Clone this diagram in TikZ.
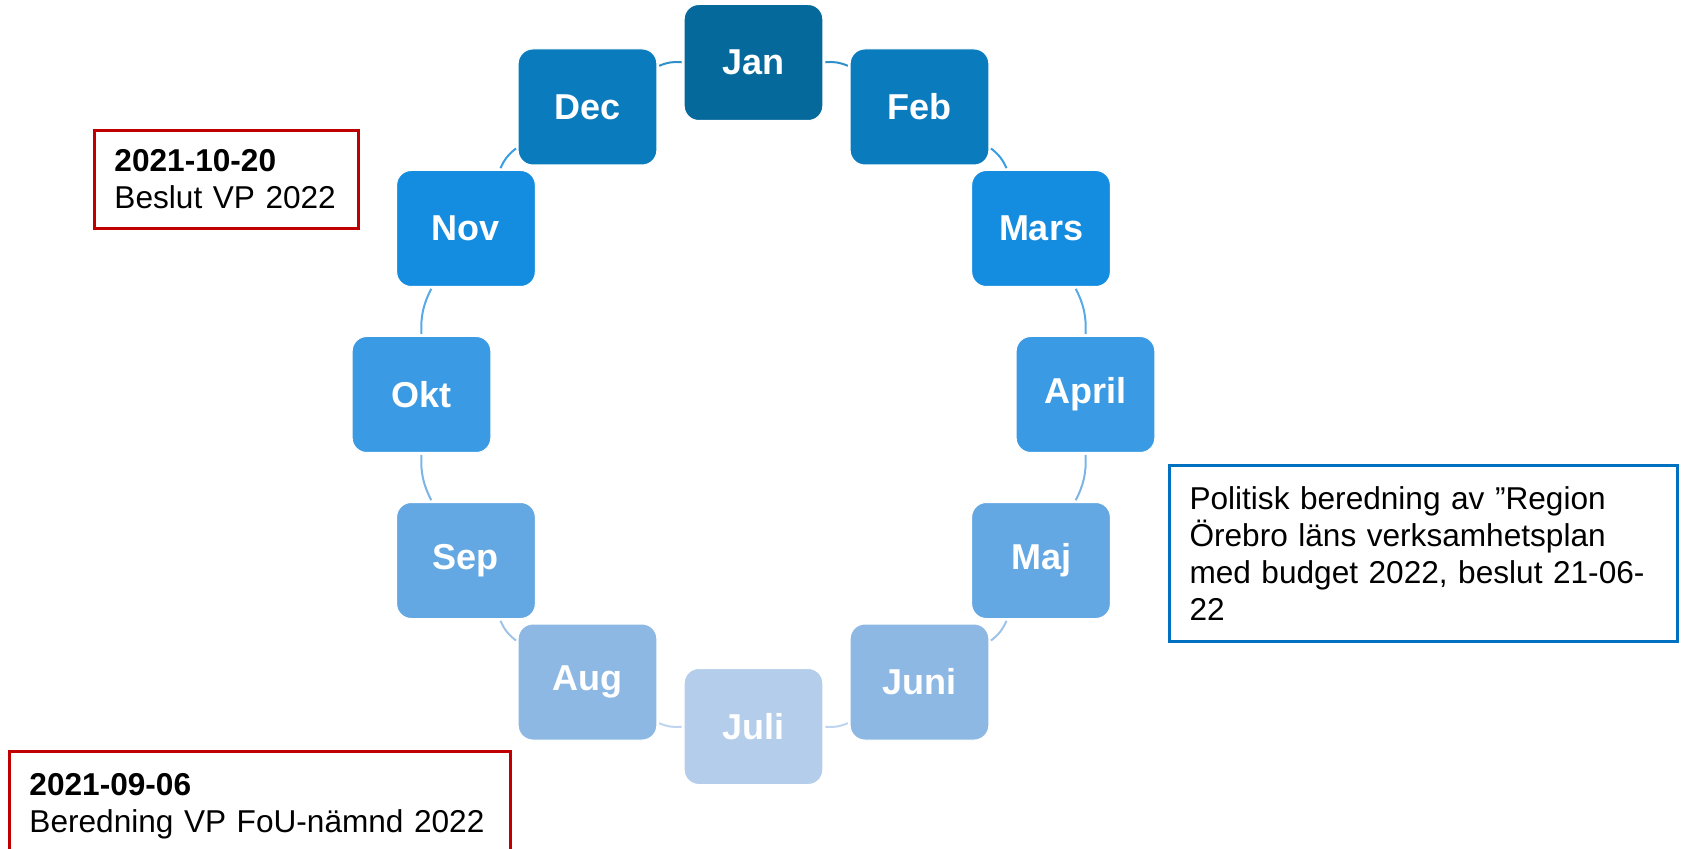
\documentclass[tikz,border=0pt]{standalone}
\usepackage{fontspec}
\setmainfont{Liberation Sans}

\definecolor{tone1}{HTML}{05699C}
\definecolor{tone2}{HTML}{0A7CBE}
\definecolor{tone3}{HTML}{148DE0}
\definecolor{tone4}{HTML}{3A9BE4}
\definecolor{tone5}{HTML}{63A8E2}
\definecolor{tone6}{HTML}{8EB8E4}
\definecolor{tone7}{HTML}{B4CDEB}
\definecolor{notered}{HTML}{C00000}
\definecolor{noteblue}{HTML}{0070C0}

\begin{document}
\begin{tikzpicture}[x=0.75pt, y=0.75pt,
    monthbox/.style={rectangle, rounded corners=11pt, draw=white, line width=0.75pt,
        minimum width=104pt, minimum height=87pt, text=white,
        font=\bfseries\fontsize{27}{32}\selectfont},
    arcline/.style={line width=1.5pt, shorten <=1.5pt, shorten >=1.5pt},
    notebox/.style={rectangle, draw, line width=2.25pt, fill=white, anchor=north west,
        align=left, inner xsep=15pt, font=\fontsize{23.7}{27.75}\selectfont}]
    \useasboundingbox (-753.5,-454.5) rectangle (931.5,394.5);

    % Months round the circle
    \node[monthbox, fill=tone1] (jan) at (90:332) {Jan};
    \node[monthbox, fill=tone2] (feb) at (60:332) {Feb};
    \node[monthbox, fill=tone3] (mar) at (30:332) {Mars};
    \node[monthbox, fill=tone4] (apr) at (0:332) {April};
    \node[monthbox, fill=tone5] (maj) at (-30:332) {Maj};
    \node[monthbox, fill=tone6] (jun) at (-60:332) {Juni};
    \node[monthbox, fill=tone7] (jul) at (-90:332) {Juli};
    \node[monthbox, fill=tone6] (aug) at (-120:332) {Aug};
    \node[monthbox, fill=tone5] (sep) at (-150:332) {Sep};
    \node[monthbox, fill=tone4] (okt) at (180:332) {Okt};
    \node[monthbox, fill=tone3] (nov) at (150:332) {Nov};
    \node[monthbox, fill=tone2] (dec) at (120:332) {Dec};

    % Arcs between the months
    \draw[arcline, tone2!85!white] (jan) to[bend left=15] (feb);
    \draw[arcline, tone3!85!white] (feb) to[bend left=15] (mar);
    \draw[arcline, tone4!85!white] (mar) to[bend left=15] (apr);
    \draw[arcline, tone5!85!white] (apr) to[bend left=15] (maj);
    \draw[arcline, tone6!85!white] (maj) to[bend left=15] (jun);
    \draw[arcline, tone7!85!white] (jun) to[bend left=15] (jul);
    \draw[arcline, tone7!85!white] (jul) to[bend left=15] (aug);
    \draw[arcline, tone6!85!white] (aug) to[bend left=15] (sep);
    \draw[arcline, tone5!85!white] (sep) to[bend left=15] (okt);
    \draw[arcline, tone4!85!white] (okt) to[bend left=15] (nov);
    \draw[arcline, tone3!85!white] (nov) to[bend left=15] (dec);
    \draw[arcline, tone2!85!white] (dec) to[bend left=15] (jan);

    % Notes
    \node[notebox, draw=notered, text width=168pt, minimum height=73.5pt] (beslut)
        at (-660.5,265.5) {\textbf{2021-10-20}\\Beslut VP 2022};
    \node[notebox, draw=notered, text width=346pt, minimum height=82.5pt] (beredning)
        at (-745.5,-355.5) {\textbf{2021-09-06}\\Beredning VP FoU-nämnd 2022};
    \node[notebox, draw=noteblue, text width=351pt, minimum height=132pt] (politisk)
        at (414.5,-69.5) {Politisk beredning av ”Region\\Örebro läns verksamhetsplan\\med budget 2022, beslut 21-06-\\22};
\end{tikzpicture}
\end{document}
